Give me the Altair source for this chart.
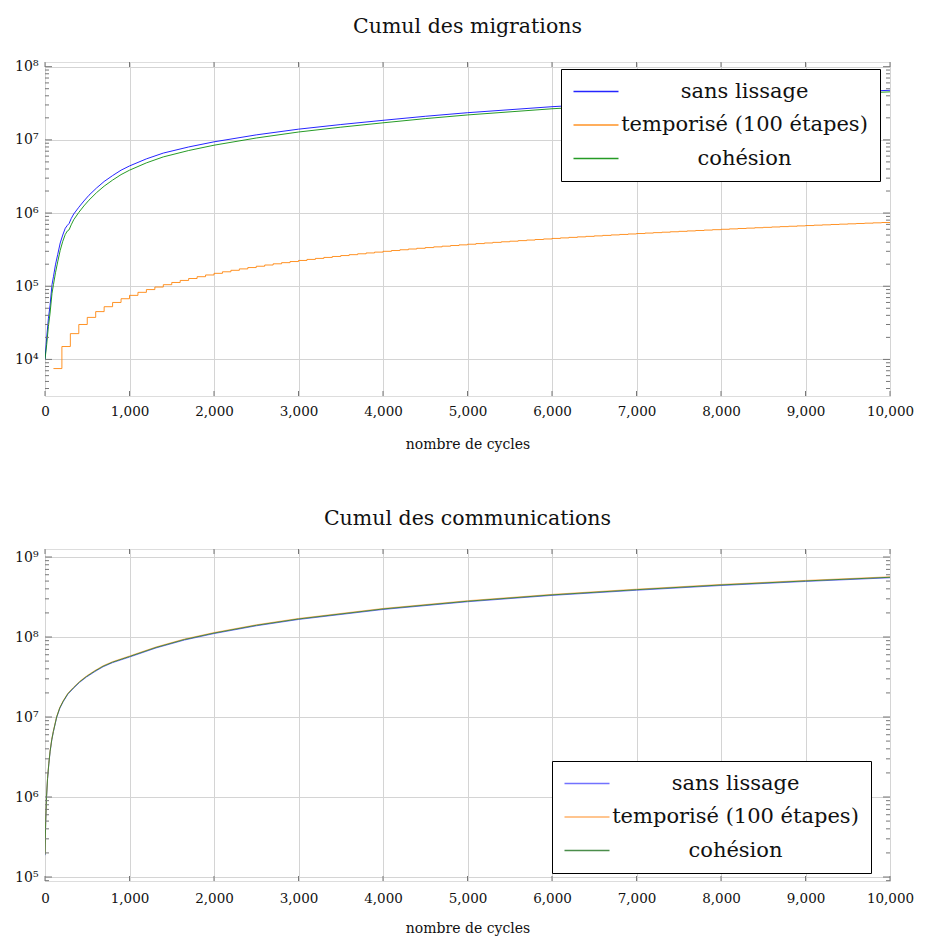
import altair as alt
import pandas as pd

# ---------------- data: cumulative migrations ----------------
series_names = ["sans lissage", "temporisé (100 étapes)", "cohésion"]

cycles_mig = [0, 20, 40, 60, 83, 100, 125, 150, 180, 210, 240, 265, 285, 310, 340,
              400, 460, 520, 610, 700, 800, 900, 1000, 1200, 1400, 1700, 2000, 2500,
              3000, 3500, 4000, 4500, 5000, 6000, 7000, 8000, 9000, 10000]
sans_lissage_mig = [1.0e4, 2.0e4, 3.6e4, 5.5e4, 1.05e5, 1.35e5, 2.0e5, 2.7e5, 3.9e5, 5.0e5,
                    6.2e5, 6.8e5, 7.2e5, 8.4e5, 9.7e5, 1.2e6, 1.46e6, 1.75e6, 2.2e6, 2.7e6,
                    3.25e6, 3.85e6, 4.4e6, 5.5e6, 6.6e6, 8.0e6, 9.4e6, 1.17e7, 1.4e7, 1.62e7,
                    1.85e7, 2.1e7, 2.35e7, 2.84e7, 3.3e7, 3.8e7, 4.28e7, 4.76e7]
cohesion_mig = [1.0e4, 1.6e4, 2.8e4, 4.3e4, 8.0e4, 1.05e5, 1.55e5, 2.15e5, 3.1e5, 4.1e5,
                5.1e5, 5.7e5, 5.9e5, 6.9e5, 8.1e5, 1.02e6, 1.25e6, 1.5e6, 1.9e6, 2.33e6,
                2.82e6, 3.35e6, 3.85e6, 4.85e6, 5.85e6, 7.15e6, 8.45e6, 1.06e7, 1.28e7, 1.49e7,
                1.71e7, 1.95e7, 2.19e7, 2.66e7, 3.1e7, 3.59e7, 4.06e7, 4.53e7]
etapes_cycles = list(range(100, 10001, 100))
temporise_mig = [
    7500, 15000, 22500, 30000, 37500, 45000, 52500, 60000, 67500, 75000,
    82500, 90000, 97500, 105000, 112500, 120000, 127500, 135000, 142500, 150000,
    157500, 165000, 172500, 180000, 187500, 195000, 202500, 210000, 217500, 225000,
    232500, 240000, 247500, 255000, 262500, 270000, 277500, 285000, 292500, 300000,
    307500, 315000, 322500, 330000, 337500, 345000, 352500, 360000, 367500, 375000,
    382500, 390000, 397500, 405000, 412500, 420000, 427500, 435000, 442500, 450000,
    457500, 465000, 472500, 480000, 487500, 495000, 502500, 510000, 517500, 525000,
    532500, 540000, 547500, 555000, 562500, 570000, 577500, 585000, 592500, 600000,
    607500, 615000, 622500, 630000, 637500, 645000, 652500, 660000, 667500, 675000,
    682500, 690000, 697500, 705000, 712500, 720000, 727500, 735000, 742500, 750000]

# ---------------- data: cumulative communications ----------------
cycles_com = [0, 8, 18, 30, 45, 60, 80, 99, 138, 175, 216, 270, 334, 410, 490, 590, 687,
              800, 1000, 1314, 1650, 2000, 2500, 3000, 4000, 5000, 6000, 7000, 8000, 9000, 10000]
cohesion_com = [1.9e5, 5.0e5, 1.0e6, 1.7e6, 2.6e6, 3.7e6, 5.2e6, 6.6e6, 1.0e7, 1.3e7, 1.58e7,
                1.95e7, 2.3e7, 2.75e7, 3.2e7, 3.75e7, 4.3e7, 4.85e7, 5.7e7, 7.4e7, 9.3e7,
                1.12e8, 1.4e8, 1.68e8, 2.24e8, 2.8e8, 3.36e8, 3.9e8, 4.47e8, 5.02e8, 5.58e8]
sans_lissage_com = [1.87e5, 4.9e5, 9.8e5, 1.67e6, 2.56e6, 3.64e6, 5.12e6, 6.5e6, 9.85e6, 1.28e7,
                    1.556e7, 1.92e7, 2.265e7, 2.71e7, 3.15e7, 3.69e7, 4.24e7, 4.78e7, 5.61e7,
                    7.29e7, 9.16e7, 1.103e8, 1.379e8, 1.655e8, 2.206e8, 2.758e8, 3.31e8,
                    3.84e8, 4.40e8, 4.945e8, 5.50e8]
temporise_com = [1.93e5, 5.08e5, 1.015e6, 1.73e6, 2.64e6, 3.76e6, 5.28e6, 6.7e6, 1.015e7, 1.32e7,
                 1.604e7, 1.98e7, 2.335e7, 2.79e7, 3.25e7, 3.81e7, 4.37e7, 4.92e7, 5.79e7,
                 7.51e7, 9.44e7, 1.137e8, 1.421e8, 1.705e8, 2.274e8, 2.842e8, 3.41e8,
                 3.96e8, 4.54e8, 5.095e8, 5.66e8]

x_ticks = list(range(0, 10001, 1000))
mig_major = [1e4, 1e5, 1e6, 1e7, 1e8]
mig_minor = [m * 10 ** d for d in range(3, 8) for m in range(2, 10) if 3162 <= m * 10 ** d <= 1.15e8]
com_major = [1e5, 1e6, 1e7, 1e8, 1e9]
com_minor = [m * 10 ** d for d in range(4, 9) for m in range(2, 10) if 8.9e4 <= m * 10 ** d <= 1.25e9]

FONT = "DejaVu Serif"
W = 845
H1 = 334
H2 = 332

LABEL_EXPR = ("'10' + substring('⁰¹²³⁴⁵⁶⁷⁸⁹', round(log(datum.value)/LN10), "
              "round(log(datum.value)/LN10) + 1)")


def build(df_lines, steps_df, domain, major, minor, height, colors, title, lx, ly,
          title_offset, label_pad, title_pad):
    xscale = alt.Scale(domain=[0, 10000], nice=False)
    yscale = alt.Scale(type="log", domain=domain, nice=False)
    legend = alt.Legend(
        title=None, orient="none", legendX=lx, legendY=ly,
        strokeColor="black", fillColor="white", cornerRadius=0,
        padding=12, rowPadding=11.5,
        symbolType="M-3,0H3", symbolSize=225, symbolStrokeWidth=1.3,
        symbolOffset=12.5, labelOffset=138, labelAlign="center",
        labelFont=FONT, labelFontSize=21, labelLimit=500, labelColor="#111",
    )
    color = alt.Color("serie:N", scale=alt.Scale(domain=series_names, range=colors),
                      legend=legend, sort=series_names)
    xaxis = alt.Axis(values=x_ticks, format=",d", tickSize=0, domain=False,
                     grid=True, gridColor="#d4d4d4", labelFont=FONT, labelFontSize=13.5,
                     labelColor="#111", labelPadding=label_pad, labelFlush=False,
                     title="nombre de cycles", titleFont=FONT, titleFontSize=14,
                     titleFontWeight="normal", titleColor="#111", titlePadding=title_pad)
    yaxis = alt.Axis(values=major, labelExpr=LABEL_EXPR, tickSize=0, domain=False,
                     grid=True, gridColor="#d4d4d4", labelFont=FONT, labelFontSize=14,
                     labelColor="#111", labelPadding=7, title=None)

    layers = []
    layers.append(alt.Chart(df_lines).mark_line(strokeWidth=1.0, opacity=0.85, clip=True).encode(
        x=alt.X("cycle:Q", scale=xscale, axis=xaxis),
        y=alt.Y("valeur:Q", scale=yscale, axis=yaxis),
        color=color,
        detail="serie:N",
    ))
    if steps_df is not None:
        layers.append(alt.Chart(steps_df).mark_line(strokeWidth=1.0, opacity=0.85,
                                                    interpolate="step-after", clip=True).encode(
            x=alt.X("cycle:Q", scale=xscale),
            y=alt.Y("valeur:Q", scale=yscale),
            color=color,
        ))
    tick_col = "#777"
    xt = pd.DataFrame({"cycle": x_ticks})
    layers.append(alt.Chart(xt).mark_rule(color=tick_col, strokeWidth=1).encode(
        x=alt.X("cycle:Q", scale=xscale), y=alt.value(height), y2=alt.value(height - 5)))
    layers.append(alt.Chart(xt).mark_rule(color=tick_col, strokeWidth=1).encode(
        x=alt.X("cycle:Q", scale=xscale), y=alt.value(0), y2=alt.value(5)))
    mj = pd.DataFrame({"valeur": major})
    mn = pd.DataFrame({"valeur": minor})
    for d, ln in ((mj, 7), (mn, 4)):
        layers.append(alt.Chart(d).mark_rule(color=tick_col, strokeWidth=1).encode(
            y=alt.Y("valeur:Q", scale=yscale), x=alt.value(0), x2=alt.value(ln)))
        layers.append(alt.Chart(d).mark_rule(color=tick_col, strokeWidth=1).encode(
            y=alt.Y("valeur:Q", scale=yscale), x=alt.value(W - ln), x2=alt.value(W)))
    return alt.layer(*layers).properties(
        width=W, height=height,
        title=alt.TitleParams(title, font=FONT, fontSize=20.5, fontWeight="normal",
                              color="#111", anchor="middle", offset=title_offset),
    )


rows = []
for c, v in zip(cycles_mig, sans_lissage_mig):
    rows.append({"cycle": c, "valeur": v, "serie": series_names[0]})
for c, v in zip(cycles_mig, cohesion_mig):
    rows.append({"cycle": c, "valeur": v, "serie": series_names[2]})
mig_df = pd.DataFrame(rows)
mig_steps = pd.DataFrame({"cycle": etapes_cycles, "valeur": temporise_mig, "serie": series_names[1]})

rows = []
for name, vals in ((series_names[0], sans_lissage_com), (series_names[1], temporise_com),
                   (series_names[2], cohesion_com)):
    for c, v in zip(cycles_com, vals):
        rows.append({"cycle": c, "valeur": v, "serie": name})
com_df = pd.DataFrame(rows)

top = build(mig_df, mig_steps, [10 ** 3.5, 10 ** 8.064], mig_major, mig_minor, H1,
            ["#0000ff", "#ff8000", "#008a00"], "Cumul des migrations", 516, 7, 22, 8, 20)
bottom = build(com_df, None, [10 ** 4.95, 10 ** 9.1], com_major, com_minor, H2,
               ["#5a5aff", "#ffa650", "#2b7a2b"], "Cumul des communications", 507, 212, 19, 10, 17)

chart = alt.vconcat(top, bottom, spacing=56).resolve_scale(
    color="independent", x="independent", y="independent"
).resolve_legend(color="independent").properties(
    padding={"left": 6, "top": 8, "right": 0, "bottom": 0}
).configure_view(stroke="#6b6b6b", strokeWidth=1.2).configure(background="white")

chart.save("out.html", embed_options={"renderer": "svg", "actions": False})
